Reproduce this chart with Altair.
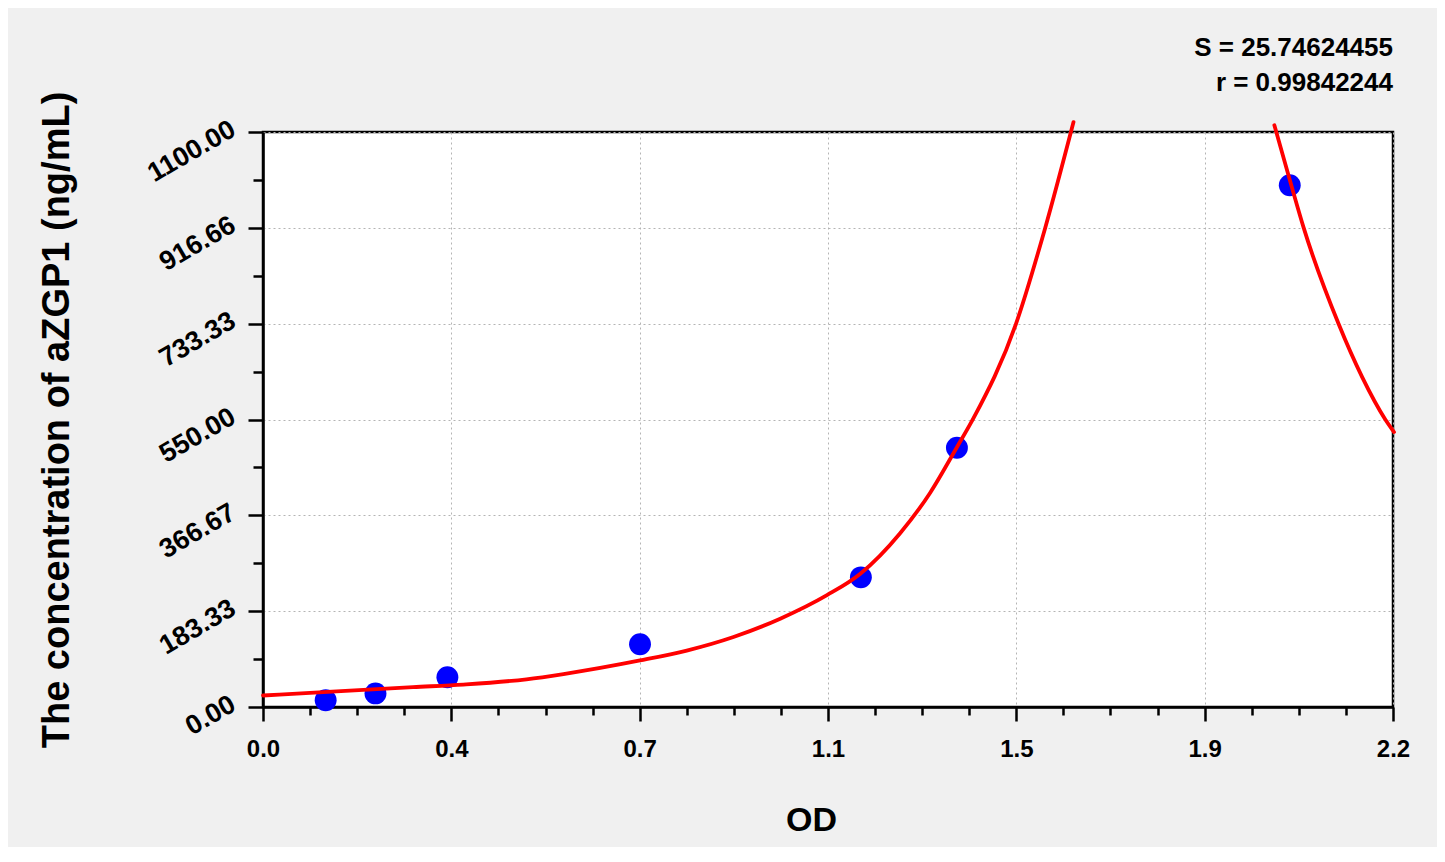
import altair as alt
import pandas as pd

# ---- data ----
od_points = [0.122, 0.219, 0.359, 0.734, 1.164, 1.351, 1.999]
conc_points = [13, 26, 57, 120, 248, 496, 998]

curve_left_od = [0.0, 0.143, 0.292, 0.390, 0.513, 0.585, 0.734, 0.825, 0.916, 1.007,
                 1.098, 1.163, 1.240, 1.299, 1.351, 1.383, 1.466, 1.523, 1.578]
curve_left_conc = [22, 30, 38, 43, 53, 63, 89, 108, 134, 169,
                   214, 255, 332, 410, 497, 552, 733, 917, 1119]
curve_right_od = [1.969, 2.002, 2.026, 2.094, 2.140, 2.185, 2.202]
curve_right_conc = [1113, 998, 917, 733, 631, 550, 526]

x_major = [0.0, 0.3667, 0.7333, 1.1, 1.4667, 1.8333, 2.2]
x_labels = ["0.0", "0.4", "0.7", "1.1", "1.5", "1.9", "2.2"]
y_major = [0.0, 183.33, 366.67, 550.0, 733.33, 916.66, 1100.0]
y_labels = ["0.00", "183.33", "366.67", "550.00", "733.33", "916.66", "1100.00"]

stat_lines = ["S = 25.74624455", "r = 0.99842244"]
x_title = "OD"
y_title = "The concentration of aZGP1 (ng/mL)"

# ---- tables ----
points_df = pd.DataFrame({"od": od_points, "conc": conc_points})
curve_df = pd.concat([
    pd.DataFrame({"od": curve_left_od, "conc": curve_left_conc, "branch": "a"}),
    pd.DataFrame({"od": curve_right_od, "conc": curve_right_conc, "branch": "b"}),
])


def with_minor(major, n=4, nd=4):
    vals = []
    for a, b in zip(major[:-1], major[1:]):
        for k in range(n):
            vals.append(round(a + (b - a) * k / n, nd))
    vals.append(round(major[-1], nd))
    return vals


def arr(vals):
    return "[" + ",".join(repr(v) for v in vals) + "]"


def axis_parts(major, labels, nd=4):
    m = arr([round(v, nd) for v in major])
    lab = "[" + ",".join("'" + s + "'" for s in labels) + "]"
    test = f"indexof({m}, datum.value) >= 0"
    expr = f"{test} ? {lab}[indexof({m}, datum.value)] : ''"
    return with_minor(major, nd=nd), test, expr


x_vals, x_test, x_expr = axis_parts(x_major, x_labels)
y_vals, y_test, y_expr = axis_parts(y_major, y_labels, nd=3)

FONT = "Liberation Sans, Arial, sans-serif"

common_axis = dict(
    grid=True,
    gridColor="#b4b4b4",
    gridDash=[2, 3],
    gridWidth=1,
    domainColor="black",
    domainWidth=2.5,
    tickColor="black",
    tickWidth=2.5,
    labelColor="black",
    labelFont=FONT,
    labelFontWeight="bold",
    labelFlush=False,
    labelOverlap=False,
    titleColor="black",
    titleFont=FONT,
    titleFontWeight="bold",
)

x_axis = alt.Axis(
    values=x_vals,
    labelExpr=x_expr,
    tickSize={"condition": {"test": x_test, "value": 14}, "value": 8},
    gridOpacity={"condition": {"test": x_test, "value": 1}, "value": 0},
    labelFontSize=24,
    labelPadding=16,
    labelAngle=0,
    title=x_title,
    titleFontSize=34,
    titleX=548,
    titleY=123,
    titleBaseline="alphabetic",
    titleAlign="center",
    **common_axis,
)

y_axis = alt.Axis(
    values=y_vals,
    labelExpr=y_expr,
    tickSize={"condition": {"test": y_test, "value": 15}, "value": 10},
    gridOpacity={"condition": {"test": y_test, "value": 1}, "value": 0},
    labelFontSize=27,
    labelPadding=15,
    labelOffset=-5,
    labelAngle=330,
    labelAlign="right",
    labelBaseline="middle",
    title=y_title,
    titleFontSize=38,
    titleAngle=270,
    titleX=-195,
    titleY=287.5,
    titleBaseline="alphabetic",
    titleAlign="center",
    **common_axis,
)

x_enc = alt.X("od:Q", scale=alt.Scale(domain=[0, 2.2], nice=False, zero=False), axis=x_axis)
y_enc = alt.Y("conc:Q", scale=alt.Scale(domain=[0, 1100], nice=False, zero=False), axis=y_axis)

points = alt.Chart(points_df).mark_circle(size=480, color="#0000ff", opacity=1).encode(
    x=x_enc, y=y_enc
)

curve = alt.Chart(curve_df).mark_line(
    color="#ff0000", strokeWidth=3.8, interpolate="monotone", strokeCap="round"
).encode(x="od:Q", y="conc:Q", detail="branch:N")

chart = alt.layer(points, curve).properties(
    width=1130,
    height=575,
    autosize=alt.AutoSizeParams(type="none"),
    padding={"left": 255, "top": 124, "right": 44, "bottom": 140},
    background="#f0f0f0",
    title=alt.TitleParams(
        text=stat_lines,
        anchor="end",
        frame="group",
        font=FONT,
        fontSize=26,
        fontWeight="bold",
        color="black",
        lineHeight=35,
        offset=4,
        dy=9,
    ),
).configure_view(fill="white", stroke="black", strokeWidth=2.5)

chart.save("out.html", embed_options={"renderer": "svg", "actions": False})
